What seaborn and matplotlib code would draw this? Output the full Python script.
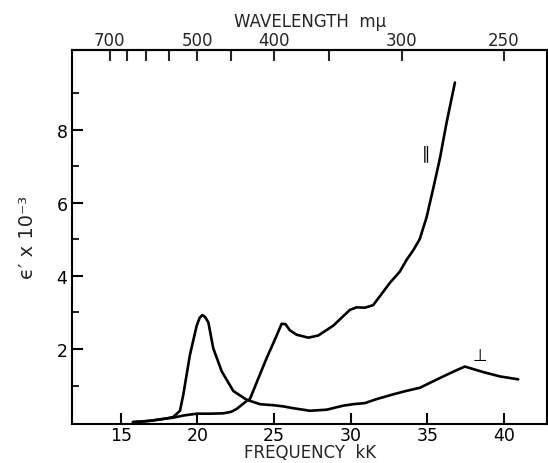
import numpy as np
import pandas as pd
import matplotlib
matplotlib.use("Agg")
import matplotlib.pyplot as plt
from matplotlib.ticker import FixedLocator, FuncFormatter
import seaborn as sns

# ---- data ----
perp_x = [15.8, 16.5, 17.0, 17.5, 18.0, 18.43, 18.87, 19.09, 19.52, 19.96, 20.15, 20.33,
          20.5, 20.72, 21.04, 21.59, 22.35, 23.22, 24.09, 25.0, 25.6, 26.26, 27.35, 28.44,
          29.52, 30.17, 30.93, 31.7, 32.78, 33.5, 34.52, 35.3, 36.04, 36.8, 37.45, 38.0,
          38.64, 39.73, 40.93]
perp_y = [0.0, 0.02, 0.04, 0.07, 0.1, 0.14, 0.31, 0.76, 1.84, 2.64, 2.85, 2.93,
          2.88, 2.73, 2.02, 1.39, 0.85, 0.61, 0.49, 0.46, 0.43, 0.38, 0.31, 0.34,
          0.45, 0.49, 0.52, 0.63, 0.76, 0.84, 0.94, 1.1, 1.25, 1.4, 1.52, 1.45,
          1.37, 1.25, 1.17]

par_x = [15.8, 16.5, 17.0, 17.5, 18.0, 18.43, 19.09, 19.96, 20.8, 21.7, 22.2, 22.57,
         23.22, 23.43, 24.52, 25.0, 25.5, 25.75, 26.04, 26.48, 27.24, 27.89, 28.87,
         29.95, 30.39, 30.93, 31.47, 32.56, 33.21, 33.65, 34.08, 34.5, 34.95, 35.39,
         35.82, 36.26, 36.8]
par_y = [0.0, 0.02, 0.04, 0.07, 0.1, 0.12, 0.18, 0.23, 0.23, 0.24, 0.28, 0.36,
         0.58, 0.63, 1.75, 2.2, 2.69, 2.68, 2.51, 2.39, 2.31, 2.37, 2.64,
         3.07, 3.14, 3.13, 3.2, 3.81, 4.12, 4.44, 4.7, 5.0, 5.6, 6.4,
         7.21, 8.2, 9.29]

freq_ticks = [15, 20, 25, 30, 35, 40]
eps_major = [2, 4, 6, 8]
eps_minor = [1, 3, 5, 7, 9]
wl_ticks = [700, 650, 600, 550, 500, 450, 400, 350, 300, 250]
wl_labels = [700, 500, 400, 300, 250]

labels = {"par": ("\u2225", 34.9, 7.37), "perp": ("\u22A5", 38.4, 1.84)}

# ---- plotting ----
sns.set_style("ticks")
plt.rcParams["font.family"] = ["DejaVu Sans"]

fig = plt.figure(figsize=(5.48, 4.64), dpi=100)
ax = fig.add_axes([0.132, 0.085, 0.866, 0.805])

df_perp = pd.DataFrame({"x": perp_x, "y": perp_y})
df_par = pd.DataFrame({"x": par_x, "y": par_y})
sns.lineplot(data=df_perp, x="x", y="y", ax=ax, color="black", lw=1.9, sort=False)
sns.lineplot(data=df_par, x="x", y="y", ax=ax, color="black", lw=1.9, sort=False)

ax.set_xlim(11.85, 42.8)
ax.set_ylim(-0.04, 10.18)

for s in ax.spines.values():
    s.set_linewidth(1.5)
    s.set_color("black")

ax.set_xticks(freq_ticks)
ax.set_yticks(eps_major)
ax.yaxis.set_minor_locator(FixedLocator(eps_minor))
ax.tick_params(axis="both", which="major", direction="in", length=8, width=1.5,
               labelsize=12.5, top=False, right=False, colors="black")
ax.tick_params(axis="y", which="minor", direction="in", length=5, width=1.5)
ax.tick_params(axis="x", pad=2)

ax.set_xlabel("FREQUENCY  kK", fontsize=12, labelpad=-1)
ax.set_ylabel("\u03F5\u2032 x 10\u207B\u00B3", fontsize=14, labelpad=14)

sec = ax.secondary_xaxis("top", functions=(lambda k: 1e4 / np.maximum(k, 1e-6),
                                           lambda l: 1e4 / np.maximum(l, 1e-6)))
sec.xaxis.set_major_locator(FixedLocator(wl_ticks))
sec.xaxis.set_major_formatter(FuncFormatter(lambda v, p: f"{int(round(v))}" if int(round(v)) in wl_labels else ""))
sec.tick_params(direction="in", length=8, width=1.5, labelsize=12, pad=1)
sec.spines["top"].set_linewidth(1.5)
sec.set_xlabel("WAVELENGTH  m\u03BC", fontsize=12, labelpad=3)

for key, (txt, lx, ly) in labels.items():
    ax.text(lx, ly, txt, fontsize=12, ha="center", va="center", color="black")

fig.savefig("out.png", dpi=100)
